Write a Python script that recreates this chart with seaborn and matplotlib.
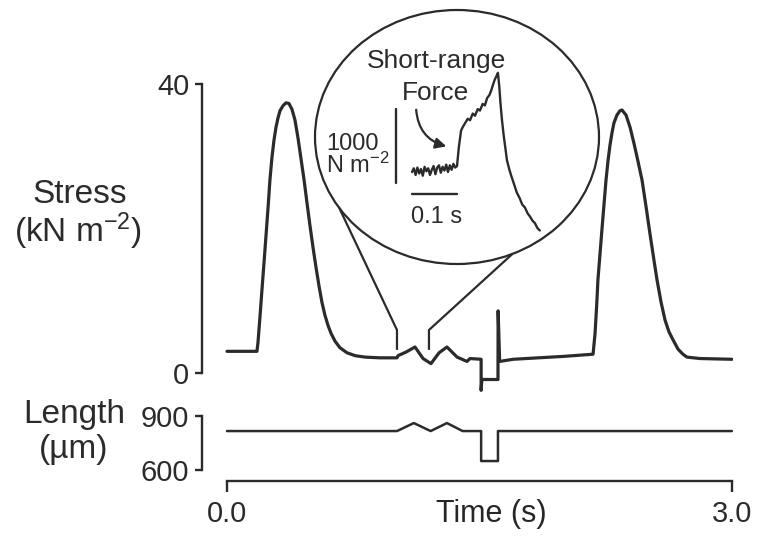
import numpy as np
import pandas as pd
import matplotlib
matplotlib.use("Agg")
import matplotlib.pyplot as plt
from matplotlib.patches import Ellipse, FancyArrowPatch
import seaborn as sns

# ── stress trace: time (s) / stress (kN m-2) ─────────────────────────────
stress_t = [0.000, 0.137, 0.178, 0.184, 0.196, 0.208, 0.220, 0.232, 0.244, 0.255,
            0.267, 0.279, 0.291, 0.303, 0.315, 0.333, 0.351, 0.368, 0.386, 0.404,
            0.422, 0.440, 0.458, 0.475, 0.493, 0.511, 0.529, 0.547, 0.564, 0.582,
            0.600, 0.618, 0.642, 0.671, 0.713, 0.761, 0.820, 0.909, 1.010,
            1.016, 1.064, 1.117, 1.165, 1.212, 1.260, 1.307, 1.367, 1.426, 1.444,
            1.510, 1.510, 1.514, 1.518, 1.610, 1.611, 1.620, 1.700, 2.000, 2.175,
            2.187, 2.198, 2.204, 2.216, 2.228, 2.240, 2.252, 2.264, 2.276, 2.288,
            2.299, 2.317, 2.335, 2.347, 2.371, 2.395, 2.418, 2.442, 2.466, 2.490,
            2.513, 2.537, 2.555, 2.579, 2.603, 2.626, 2.650, 2.680, 2.709, 2.733,
            2.811, 3.000]
stress_kn = [3.0, 3.0, 3.0, 4.2, 7.8, 11.6, 15.3, 19.1, 22.9, 26.7,
             29.8, 32.2, 34.0, 35.3, 36.3, 37.0, 37.4, 37.3, 36.5, 35.0,
             32.5, 29.6, 26.7, 23.6, 20.4, 17.4, 14.6, 12.0, 9.8, 8.0,
             6.6, 5.5, 4.4, 3.5, 2.8, 2.4, 2.2, 2.1, 2.1,
             2.4, 2.9, 3.6, 2.0, 1.3, 2.8, 3.6, 2.2, 1.6, 2.0,
             1.9, -2.4, -0.9, -0.9, -0.9, 8.6, 1.6, 1.9, 2.3, 2.6,
             5.5, 10.0, 12.9, 16.4, 19.9, 23.3, 26.7, 29.4, 31.6, 33.3,
             34.6, 35.7, 36.3, 36.4, 35.7, 34.0, 31.8, 29.3, 26.7, 23.0,
             19.3, 15.6, 12.9, 9.8, 7.3, 5.7, 4.6, 3.3, 2.6, 2.2,
             2.0, 1.9]

# ── length trace: time (s) / length (um) ─────────────────────────────────
length_t = [0.0, 1.010, 1.110, 1.210, 1.307, 1.400, 1.510, 1.510, 1.610, 1.610, 3.0]
length_um = [817, 817, 861, 817, 861, 817, 817, 652, 652, 817, 817]

# ── inset (short-range force): time (s) / stress (N m-2) ─────────────────
inset_t = [0.000, 0.004, 0.008, 0.012, 0.016, 0.020, 0.024, 0.028, 0.032, 0.036,
           0.040, 0.044, 0.048, 0.052, 0.056, 0.060, 0.064, 0.068, 0.072, 0.076,
           0.080, 0.084, 0.088, 0.092, 0.096,
           0.100, 0.104, 0.109, 0.113, 0.118, 0.124, 0.129, 0.135, 0.140, 0.146,
           0.151, 0.157, 0.162, 0.167, 0.172, 0.176, 0.180, 0.184, 0.188, 0.191,
           0.194, 0.197, 0.200, 0.204, 0.208, 0.211, 0.216, 0.221, 0.226, 0.233,
           0.239, 0.245, 0.251, 0.257, 0.262, 0.268, 0.273, 0.279, 0.284]
inset_f = [0, 50, -40, 60, -20, 40, -50, 70, 10, 50,
           -40, 30, 80, -30, 60, 90, -10, 70, 20, 100,
           0, 90, 30, 110, 60,
           80, 330, 560, 610, 660, 720, 700, 790, 760, 850,
           830, 920, 900, 1000, 1040, 1100, 1180, 1250, 1300, 1340,
           1150, 900, 700, 480, 300, 160, 40, -60, -150, -280,
           -350, -440, -480, -560, -600, -660, -690, -760, -790]

STRESS_TICKS = [0, 40]
LENGTH_TICKS = [600, 900]
TIME_TICKS = [0.0, 3.0]
TIME_LABELS = ['0.0', '3.0']
ZOOM_WINDOW = [1.01, 1.20]      # s, stretch blown up in the circle
SCALE_BAR_F = 1000              # N m-2
SCALE_BAR_T = 0.1               # s

W, H = 762, 538
INK = '#2b2b2b'


def rect(x, y, w, h):
    # pixel box (top-left origin) -> figure fraction
    return [x / W, 1 - (y + h) / H, w / W, h / H]


sns.set_theme(style="white")
plt.rcParams['font.family'] = ['Liberation Sans', 'DejaVu Sans']
plt.rcParams['mathtext.fontset'] = 'custom'
plt.rcParams['mathtext.rm'] = 'Liberation Sans'
plt.rcParams['mathtext.it'] = 'Liberation Sans:italic'
plt.rcParams['text.color'] = INK
plt.rcParams['xtick.color'] = INK
plt.rcParams['ytick.color'] = INK

fig = plt.figure(figsize=(W / 100, H / 100), dpi=100)
fig.patch.set_facecolor('white')

df_stress = pd.DataFrame({'t': stress_t, 'kn': stress_kn})
df_len = pd.DataFrame({'t': length_t, 'um': length_um})
df_inset = pd.DataFrame({'t': inset_t, 'f': inset_f})

xlim = (-25 / 168.3, 506 / 168.3)

# ── stress panel ─────────────────────────────────────────────────────────
ax = fig.add_axes(rect(202, 69.55, 531, 332.35))
ax.set_facecolor('none')
sns.lineplot(data=df_stress, x='t', y='kn', ax=ax, color=INK, lw=2.3,
             estimator=None, sort=False)
ax.set_xlim(*xlim)
ax.set_ylim(-4, 42)
for s in ['top', 'right', 'bottom']:
    ax.spines[s].set_visible(False)
ax.spines['left'].set_bounds(0, 40)
ax.spines['left'].set_linewidth(1.7)
ax.spines['left'].set_color(INK)
ax.set_xticks([])
ax.set_yticks(STRESS_TICKS)
ax.set_yticklabels([str(v) for v in STRESS_TICKS])
ax.tick_params(axis='y', direction='out', length=5, width=1.7, labelsize=21, pad=4, left=True)
ax.set_xlabel('')
ax.set_ylabel('')

# ── length panel (its bottom spine is the time axis) ─────────────────────
axl = fig.add_axes(rect(202, 408.7, 531, 72.3))
axl.set_facecolor('none')
sns.lineplot(data=df_len, x='t', y='um', ax=axl, color=INK, lw=1.8,
             estimator=None, sort=False)
axl.set_xlim(*xlim)
axl.set_ylim(542.2, 940)
for s in ['top', 'right']:
    axl.spines[s].set_visible(False)
axl.spines['left'].set_bounds(600, 900)
axl.spines['bottom'].set_bounds(0, 3)
for s in ['left', 'bottom']:
    axl.spines[s].set_linewidth(1.7)
    axl.spines[s].set_color(INK)
axl.set_yticks(LENGTH_TICKS)
axl.set_yticklabels([str(v) for v in LENGTH_TICKS])
axl.set_xticks(TIME_TICKS)
axl.set_xticklabels(TIME_LABELS)
axl.tick_params(axis='y', direction='out', length=5, width=1.7, labelsize=21, pad=4, left=True)
axl.tick_params(axis='x', direction='out', length=8, width=1.7, labelsize=21, pad=6, bottom=True)
axl.set_ylabel('')
axl.set_xlabel('Time (s)', fontsize=22)
axl.xaxis.set_label_coords(0.544, -0.255)

# ── inset trace ──────────────────────────────────────────────────────────
axi = fig.add_axes(rect(380, 60, 180, 185))
axi.set_facecolor('none')
sns.lineplot(data=df_inset, x='t', y='f', ax=axi, color=INK, lw=1.7,
             estimator=None, sort=False)
axi.set_xlim((380 - 412) / 450, (560 - 412) / 450)
axi.set_ylim((172 - 245) / 0.074, (172 - 60) / 0.074)
axi.axis('off')
# scale bars
axi.plot([-0.0356, -0.0356], [-149, -149 + SCALE_BAR_F], color=INK, lw=1.7)
axi.plot([0.0, SCALE_BAR_T], [-297, -297], color=INK, lw=1.7)

# ── overlay in pixel space: circle, connectors, labels ───────────────────
ov = fig.add_axes([0, 0, 1, 1], zorder=5)
ov.set_xlim(0, W)
ov.set_ylim(H, 0)
ov.axis('off')
ov.patch.set_alpha(0)

cx, cy, a, b = 457, 137, 142, 127
ov.add_patch(Ellipse((cx, cy), 2 * a, 2 * b, fill=False, lw=1.6, ec=INK))


def to_px(axis, x, y):
    dx, dy = axis.transData.transform((x, y))
    return dx, H - dy


for t0, ang in zip(ZOOM_WINDOW, [146, 67]):
    x0, y_low = to_px(ax, t0, 3.2)
    _, y_high = to_px(ax, t0, 5.95)
    ex = cx + a * np.cos(np.radians(ang))
    ey = cy + b * np.sin(np.radians(ang))
    ov.plot([x0, x0, ex], [y_low, y_high, ey], color=INK, lw=1.6,
            solid_capstyle='butt')

ov.add_patch(FancyArrowPatch((416, 107), (449, 147), connectionstyle='arc3,rad=0.38',
                             arrowstyle='-|>', mutation_scale=16, lw=1.6,
                             color=INK))

ov.text(436, 68, 'Short-range', ha='center', va='baseline', fontsize=19)
ov.text(436, 100, 'Force', ha='center', va='baseline', fontsize=19)
ov.text(326, 150, '1000', ha='left', va='baseline', fontsize=17)
ov.text(326, 173, r'N m$^{-2}$', ha='left', va='baseline', fontsize=17)
ov.text(437, 223, '0.1 s', ha='center', va='baseline', fontsize=17)

ov.text(80, 203, 'Stress', ha='center', va='baseline', fontsize=24)
ov.text(78, 242, r'(kN m$^{-2}$)', ha='center', va='baseline', fontsize=24)
ov.text(74, 423, 'Length', ha='center', va='baseline', fontsize=24)
ov.text(74, 458, '(\u00b5m)', ha='center', va='baseline', fontsize=24)

fig.savefig('out.png', dpi=100, facecolor='white')
